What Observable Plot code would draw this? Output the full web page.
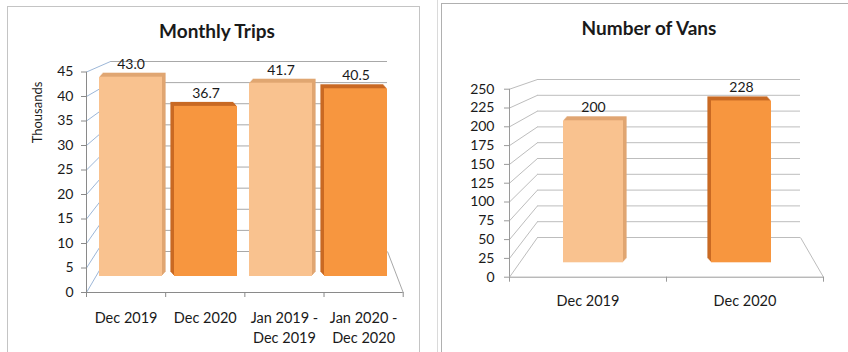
<!DOCTYPE html>
<html>
<head>
<meta charset="utf-8">
<script src="https://cdn.jsdelivr.net/npm/d3@7"></script>
<script src="https://cdn.jsdelivr.net/npm/@observablehq/plot@0.6"></script>
<style>
  html, body { margin: 0; padding: 0; background: #fff; }
  #page { position: relative; width: 848px; height: 352px; overflow: hidden; background: #fff; font-family: Lato, "Open Sans", sans-serif; }
  .panel { position: absolute; border: 1px solid #c4c4c4; background: #fff; }
  .cell { position: absolute; background: #dadada; }
  .layer { position: absolute; top: 0; height: 352px; }
  .title { position: absolute; transform: translate(-50%, -50%); white-space: nowrap; font: bold 19px Lato, sans-serif; color: #1a1a1a; }
</style>
</head>
<body>
<div id="page">
  <div class="cell" style="left:437px;top:0;width:1px;height:352px"></div>
  <div class="panel" style="left:7px;top:6px;width:411px;height:400px"></div>
  <div class="panel" style="left:441px;top:3px;width:460px;height:400px;border-color:#b0b0b0"></div>
  <div id="left" class="layer" style="left:0;width:440px"></div>
  <div id="right" class="layer" style="left:440px;width:408px"></div>
  <div class="title" style="left:217px;top:30px">Monthly Trips</div>
  <div class="title" style="left:649px;top:27px">Number of Vans</div>
</div>
<script>
// ---- data ----
const tripCategories = ["Dec 2019", "Dec 2020", "Jan 2019 -\nDec 2019", "Jan 2020 -\nDec 2020"];
const tripValues = [43.0, 36.7, 41.7, 40.5]; // thousands
const tripTicks = [0, 5, 10, 15, 20, 25, 30, 35, 40, 45];

const vanCategories = ["Dec 2019", "Dec 2020"];
const vanValues = [200, 228];
const vanTicks = [0, 25, 50, 75, 100, 125, 150, 175, 200, 225, 250];

// ---- styles ----
const FRONT = ["#F9C28F", "#F7963F"];
const SIDE = ["#E0A672", "#C96A24"];
const INK = "#1a1a1a";
const H = 352;
const SVG_STYLE = "position:absolute;left:0;top:0;background:transparent;overflow:visible;font-family:Lato,'Open Sans',sans-serif;";

function drawPanel(el, cfg) {
  const {cats, vals, ticks, fmt, g} = cfg;
  const n = cats.length;
  const max = ticks[ticks.length - 1];
  const data = cats.map((c, i) => ({cat: c, value: vals[i], shade: i % 2}));
  const base = {width: g.w, height: H, style: SVG_STYLE};

  // projection helpers between the front plane and the back wall (3-D frame geometry)
  const fy = v => g.front.y0 - (g.front.y0 - g.front.yTop) * v / max;
  const bx = px => (px - g.back.x0) / (g.back.x1 - g.back.x0) * n;
  const by = py => (g.back.y0 - py) / (g.back.y0 - g.back.yTop) * max;

  // back wall: gridlines, fan diagonals and floor edge
  const wall = Plot.plot({
    ...base,
    marginLeft: g.back.x0, marginRight: g.w - g.back.x1,
    marginTop: g.back.yTop, marginBottom: H - g.back.y0,
    x: {type: "linear", domain: [0, n], axis: null},
    y: {type: "linear", domain: [0, max], axis: null},
    marks: [
      Plot.ruleY(ticks, {stroke: g.grid}),
      Plot.link(ticks, {x1: bx(g.front.x0), y1: v => by(fy(v)), x2: 0, y2: v => v, stroke: g.diag}),
      Plot.link([0], {x1: n, y1: 0, x2: bx(g.front.x1), y2: by(g.front.y0), stroke: g.grid})
    ]
  });

  // front plane: value axis, category axis
  const frameMarks = [
    Plot.ruleX([0], {stroke: g.axis}),
    Plot.ruleY([0], {stroke: g.axis}),
    Plot.ruleX(d3.range(n + 1), {y1: 0, y2: 0, insetBottom: -5, stroke: g.axis}),
    Plot.axisY(ticks, {anchor: "left", tickSize: 5, tickPadding: g.tickPad, fontSize: 14, stroke: g.axis, fill: INK, label: null}),
    Plot.text(cats, {x: (d, i) => i + 0.5, y: 0, text: d => d, dy: g.catDy, lineAnchor: "top", lineHeight: 1.38, fontSize: 14.5, fill: INK})
  ];
  if (g.ylabel) {
    frameMarks.push(Plot.text([g.ylabel.text], {frameAnchor: "top-left", text: d => d, dx: g.ylabel.dx, dy: g.ylabel.dy,
      rotate: -90, textAnchor: "middle", lineAnchor: "middle", fontSize: 13, fill: INK}));
  }
  const frame = Plot.plot({
    ...base,
    marginLeft: g.front.x0, marginRight: g.w - g.front.x1,
    marginTop: g.front.yTop, marginBottom: H - g.front.y0,
    x: {type: "linear", domain: [0, n], axis: null},
    y: {type: "linear", domain: [0, max], axis: null},
    marks: frameMarks
  });

  // bars (mid-depth plane) with a small extrusion
  const extrude = [];
  for (const k of [4, 3, 2, 1]) {
    for (const s of [0, 1]) {
      extrude.push(Plot.barY(data, {filter: d => d.shade === s, x: "cat", y: "value",
        fill: SIDE[s], dx: (s ? -1 : 1) * k * g.ex, dy: -k}));
    }
  }
  const bars = Plot.plot({
    ...base,
    marginLeft: g.bar.x0, marginRight: g.w - g.bar.x1,
    marginTop: g.bar.yTop, marginBottom: H - g.bar.y0,
    x: {type: "band", domain: cats, paddingInner: g.bar.pi, paddingOuter: g.bar.po, axis: null},
    y: {type: "linear", domain: [0, max], axis: null},
    color: {type: "identity"},
    marks: [
      ...extrude,
      Plot.barY(data, {x: "cat", y: "value", fill: d => FRONT[d.shade]}),
      Plot.text(data, {x: "cat", y: "value", text: d => fmt(d.value), dy: -13, fontSize: 14, fill: INK})
    ]
  });

  el.append(wall, frame, bars);
}

drawPanel(document.getElementById("left"), {
  cats: tripCategories, vals: tripValues, ticks: tripTicks, fmt: d3.format(".1f"),
  g: {
    w: 440,
    front: {x0: 86, x1: 402.7, y0: 292, yTop: 71.5},
    back: {x0: 110, x1: 387, y0: 251, yTop: 61},
    bar: {x0: 92, x1: 395, y0: 276, yTop: 276 - 45 * 4.635, pi: 0.155, po: 0.0775},
    tickPad: 8, catDy: 16, ex: 0.9,
    grid: "#a8a8a8", diag: "#9db7d8", axis: "#8a8a8a",
    ylabel: {text: "Thousands", dx: -49, dy: 40.5}
  }
});

drawPanel(document.getElementById("right"), {
  cats: vanCategories, vals: vanValues, ticks: vanTicks, fmt: d3.format("d"),
  g: {
    w: 408,
    front: {x0: 69, x1: 383, y0: 276.7, yTop: 88.7},
    back: {x0: 97, x1: 360, y0: 237, yTop: 79},
    bar: {x0: 79, x1: 375, y0: 262.3, yTop: 262.3 - 250 * 0.71, pi: 0.595, po: 0.2975},
    tickPad: 10, catDy: 15, ex: 0.9,
    grid: "#bdbdbd", diag: "#bdbdbd", axis: "#9a9a9a"
  }
});
</script>
</body>
</html>
